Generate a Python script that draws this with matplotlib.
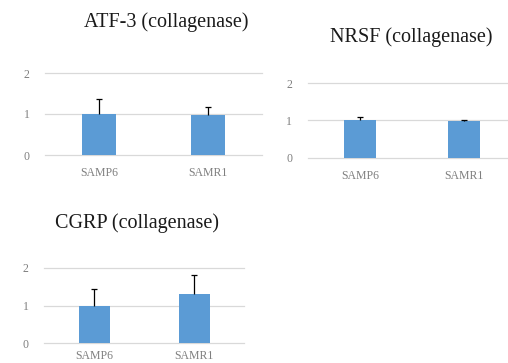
import matplotlib
matplotlib.use("Agg")
import matplotlib.pyplot as plt

categories = ["SAMP6", "SAMR1"]
titles = ["ATF-3 (collagenase)", "NRSF (collagenase)", "CGRP (collagenase)"]
means = [[1.00, 0.97], [1.00, 0.98], [1.00, 1.31]]
errs = [[0.37, 0.20], [0.09, 0.02], [0.45, 0.50]]
yticks = [0, 1, 2]

bar_color = "#5B9BD5"
grid_color = "#D9D9D9"
tick_color = "#7F7F7F"

plt.rcParams["font.family"] = ["Liberation Serif", "DejaVu Serif"]

fig = plt.figure(figsize=(5.08, 3.63), dpi=100)
W, H = 508, 363

# axes boxes in pixels: left, x-axis y, width, height of 0..2 range
boxes = [(45, 155, 217, 82), (307.5, 158, 209, 75), (44, 343, 200, 75)]
title_pos = [(166, 22), (411, 37), (137, 223)]
xpads = [9, 9, 5]

for i, (l, yb, w, h) in enumerate(boxes):
    ax = fig.add_axes([l / W, (H - yb) / H, w / W, h / H])
    x = list(range(len(categories)))
    ax.bar(x, means[i], width=0.31, color=bar_color, zorder=3)
    tops = [m + e for m, e in zip(means[i], errs[i])]
    ax.vlines(x, means[i], tops, color="black", linewidth=0.9, zorder=4)
    ax.plot(x, tops, ls="none", marker="_", ms=5, mew=0.9, color="black", zorder=4)
    ax.set_xlim(-0.5, 1.5)
    ax.set_ylim(0, 2)
    ax.set_yticks(yticks)
    ax.yaxis.grid(True, color=grid_color, linewidth=0.9)
    for gl in ax.get_ygridlines():
        gl.set_clip_on(False)
    ax.set_axisbelow(True)
    for s in ax.spines.values():
        s.set_visible(False)
    ax.tick_params(length=0, labelsize=8.5, colors=tick_color)
    ax.tick_params(axis="y", pad=11)
    ax.tick_params(axis="x", pad=xpads[i])
    ax.set_xticks(x)
    ax.set_xticklabels(categories)
    ax.patch.set_alpha(0)
    tx, ty = title_pos[i]
    fig.text(tx / W, 1 - ty / H, titles[i], ha="center", va="center",
             fontsize=14.5, color="#1a1a1a")

fig.savefig("out.png", dpi=100)
